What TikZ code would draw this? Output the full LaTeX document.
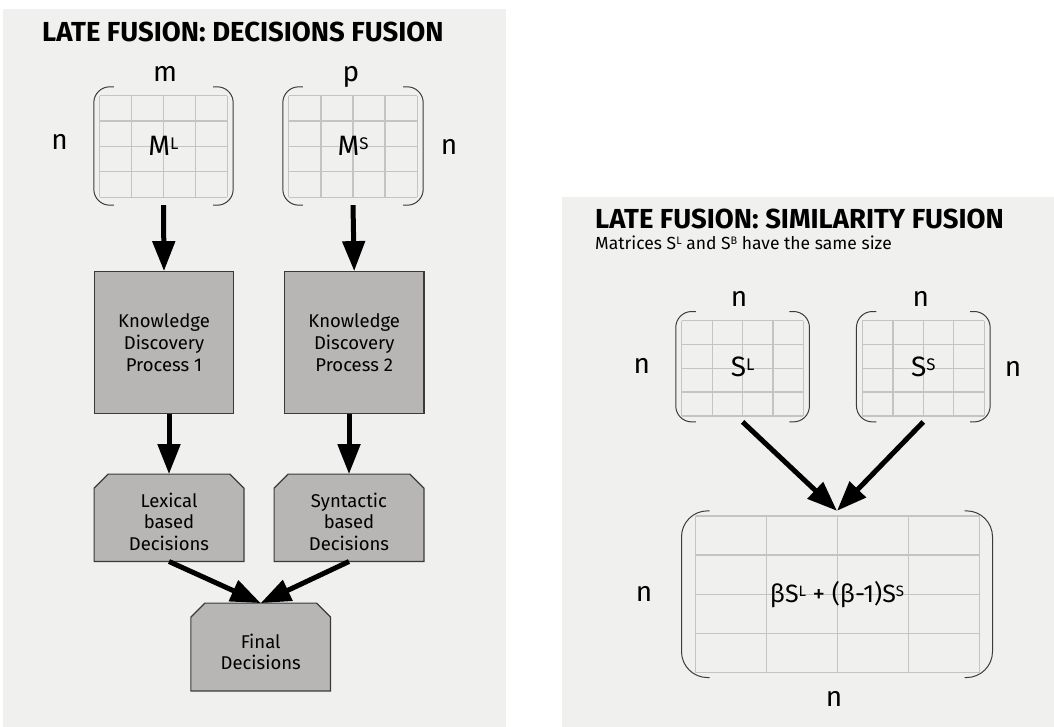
\documentclass[tikz,border=0pt]{standalone}
\usepackage{fontspec}
\setmainfont{Fira Sans}
\usetikzlibrary{calc,arrows.meta}
\pgfdeclarelayer{back}
\pgfdeclarelayer{mid}
\pgfsetlayers{back,mid,main}
\definecolor{panelbg}{HTML}{F0F0EF}
\definecolor{boxfill}{HTML}{B7B6B5}
\definecolor{boxline}{HTML}{3A3A3A}
\definecolor{gridc}{HTML}{C4C4C4}
\definecolor{brackc}{HTML}{3C3C3C}
\newcommand\supx[1]{\raisebox{0.22em}{\scalebox{0.6}{#1}}}
\newcommand\supy[1]{\raisebox{0.32em}{\scalebox{0.62}{#1}}}
% grid + brackets for a matrix node: name, inset L, R, T, B, bracket H, radius
\newcommand\matdeco[7]{%
  \begin{pgfonlayer}{mid}
  \coordinate (#1-g1) at ($(#1.north west)+(#2,#4)$);
  \coordinate (#1-g2) at ($(#1.south east)+(-#3,-#5)$);
  \foreach \i in {0,...,4}{
    \draw[gridline] ($(#1-g1)!{\i/4}!(#1-g1 -| #1-g2)$) -- ($(#1-g1 |- #1-g2)!{\i/4}!(#1-g2)$);
    \draw[gridline] ($(#1-g1)!{\i/4}!(#1-g1 |- #1-g2)$) -- ($(#1-g1 -| #1-g2)!{\i/4}!(#1-g2)$);
  }
  \draw[brack,rounded corners=#7] ($(#1.north west)+(#6,0)$) -- (#1.north west) -- (#1.south west) -- ($(#1.south west)+(#6,0)$);
  \draw[brack,rounded corners=#7] ($(#1.north east)+(-#6,0)$) -- (#1.north east) -- (#1.south east) -- ($(#1.south east)+(-#6,0)$);
  \end{pgfonlayer}
}
\newcommand\chamferbox[1]{%
  \begin{pgfonlayer}{mid}
  \draw[boxstroke] (#1.south west) -- ($(#1.north west)+(0,14)$) -- ($(#1.north west)+(14,0)$)
    -- ($(#1.north east)+(-14,0)$) -- ($(#1.north east)+(0,14)$) -- (#1.south east) -- cycle;
  \end{pgfonlayer}}
\begin{document}
\begin{tikzpicture}[x=1pt,y=-1pt,
  title/.style={font=\fontsize{27.5}{32}\selectfont\bfseries, inner sep=0pt},
  subt/.style={font=\fontsize{17.5}{21}\selectfont, inner sep=0pt},
  lab/.style={font=\fontsize{28}{32}\selectfont, inner sep=0pt},
  mat/.style={font=\fontsize{28}{32}\selectfont, inner sep=0pt},
  bigmat/.style={font=\fontsize{25}{30}\selectfont, inner sep=0pt},
  gridline/.style={draw=gridc, line width=1.3pt},
  brack/.style={draw=brackc, line width=1pt},
  boxstroke/.style={draw=boxline, fill=boxfill, line width=1.2pt},
  kbox/.style={boxstroke, align=center, inner sep=0pt, font=\fontsize{18.5}{21.7}\selectfont},
  cbox/.style={inner sep=0pt},
  ctext/.style={align=center, inner sep=0pt, font=\fontsize{18.5}{21.7}\selectfont},
  bigarrow/.style={line width=5pt, -{Triangle[width=22pt,length=30pt]}, black},
]
\path[use as bounding box] (0,0) rectangle (1054,727);
\begin{pgfonlayer}{back}
  \fill[panelbg] (3,9) rectangle (506,727);
  \fill[panelbg] (562,197) rectangle (1054,727);
\end{pgfonlayer}

% ---------- left panel ----------
\node[title, anchor=base west] (t1) at (42,42) {LATE FUSION: DECISIONS FUSION};

\node[mat, minimum width=139, minimum height=118] (mL) at (163.5,146) {M\supx{L}};
\node[mat, minimum width=140, minimum height=118] (mS) at (353,146) {M\supx{S}};
\matdeco{mL}{6}{6}{9}{8}{20}{16}
\matdeco{mS}{6}{6}{9}{8}{20}{16}
\node[lab, anchor=base] (lm) at (165,82) {m};
\node[lab, anchor=base] (lp) at (351,82) {p};
\node[lab, anchor=base] (ln1) at (59.5,150) {n};
\node[lab, anchor=base] (ln2) at (449,155) {n};

\node[kbox, minimum width=139.7, minimum height=142] (k1) at (164,342.7) {Knowledge\\Discovery\\Process 1};
\node[kbox, minimum width=139.7, minimum height=142] (k2) at (354.2,342.7) {Knowledge\\Discovery\\Process 2};

\node[cbox, minimum width=149.4, minimum height=87] (lex) at (169,517.8) {};
\node[cbox, minimum width=149.4, minimum height=87] (syn) at (349,517.8) {};
\node[cbox, minimum width=139.3, minimum height=87.4] (fin) at (260.7,647) {};
\chamferbox{lex}
\chamferbox{syn}
\chamferbox{fin}
\node[ctext] (lext) at ($(lex)+(0,4)$) {Lexical\\based\\Decisions};
\node[ctext] (synt) at ($(syn)+(0,4)$) {Syntactic\\based\\Decisions};
\node[ctext] (fint) at ($(fin)+(0,5)$) {Final\\Decisions};

\draw[bigarrow] (mL.south) -- (k1.north);
\draw[bigarrow] (mS.south) -- (k2.north);
\draw[bigarrow] (k1.south -| lex.north) -- (lex.north);
\draw[bigarrow] (k2.south -| syn.north) -- (syn.north);
\draw[bigarrow] (lex.south) -- (fin.north);
\draw[bigarrow] (syn.south) -- (fin.north);

% ---------- right panel ----------
\node[title, anchor=base west] (t2) at (595,229) {LATE FUSION: SIMILARITY FUSION};
\node[subt, anchor=base west] (st) at (595,250) {Matrices S\supy{L} and S\supy{B} have the same size};

\node[mat, minimum width=133.3, minimum height=110] (sL) at (742.6,366.7) {S\supx{L}};
\node[mat, minimum width=133.3, minimum height=110] (sS) at (923.3,366.7) {S\supx{S}};
\matdeco{sL}{6}{6}{9}{6}{20}{16}
\matdeco{sS}{6}{6}{9}{6}{20}{16}
\node[lab, anchor=base] (rn1) at (739,306) {n};
\node[lab, anchor=base] (rn2) at (920.7,306) {n};
\node[lab, anchor=base] (rn3) at (641.7,373) {n};
\node[lab, anchor=base] (rn4) at (1013,376) {n};

\node[bigmat, minimum width=310.6, minimum height=166.3] (big) at (837,594.2) {βS\supx{L} + (β-1)S\supx{S}};
\matdeco{big}{14}{13}{5}{5}{28}{26}
\node[lab, anchor=base] (rn5) at (644,601.7) {n};
\node[lab, anchor=base] (rn6) at (834,706.7) {n};

\draw[bigarrow] (sL.south) -- (big.north);
\draw[bigarrow] (sS.south) -- (big.north);
\end{tikzpicture}
\end{document}
